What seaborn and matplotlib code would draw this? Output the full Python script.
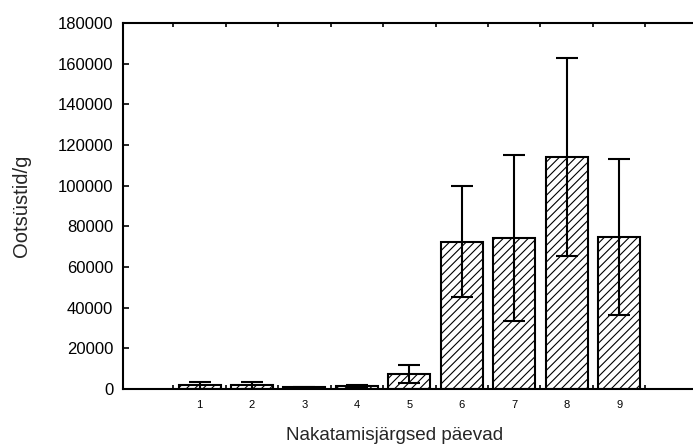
import matplotlib
matplotlib.use("Agg")
import matplotlib.pyplot as plt
import seaborn as sns
import pandas as pd
import numpy as np
from matplotlib.ticker import FixedLocator

days = ["1", "2", "3", "4", "5", "6", "7", "8", "9"]
means = [1800, 1800, 800, 1300, 7200, 72400, 74400, 114100, 74800]
errors = [1600, 1600, 400, 700, 4400, 27200, 40900, 48900, 38500]
y_ticks = [0, 20000, 40000, 60000, 80000, 100000, 120000, 140000, 160000, 180000]

sns.set_theme(style="white")
plt.rcParams["font.family"] = ["Liberation Sans", "DejaVu Sans"]
plt.rcParams["hatch.linewidth"] = 0.8
plt.rcParams["hatch.color"] = "black"

df = pd.DataFrame({"day": days, "value": means})

fig = plt.figure(figsize=(6.93, 4.46), dpi=100)
ax = fig.add_axes([123 / 693, 57 / 446, 570 / 693, 366 / 446])

sns.barplot(data=df, x="day", y="value", ax=ax, color="white",
            edgecolor="black", linewidth=1.5, width=0.8, errorbar=None,
            hatch="////", saturation=1)
for p in ax.patches:
    p.set_hatch("////")
    p.set_facecolor("white")
    p.set_edgecolor("black")

xs = [p.get_x() + p.get_width() / 2 for p in ax.patches]
ax.errorbar(xs, means, yerr=errors, fmt="none", ecolor="black",
            elinewidth=1.5, capsize=8, capthick=1.5, zorder=5)

ax.set_xlim(-1.46, 9.41)
ax.set_ylim(0, 180000)
ax.set_yticks(y_ticks)
ax.set_yticklabels([str(v) for v in y_ticks], fontsize=12)
ax.set_xticks(range(len(days)))
ax.set_xticklabels(days, fontsize=8)
ax.xaxis.set_minor_locator(FixedLocator([i - 0.5 for i in range(len(days) + 1)]))

for s in ["left", "bottom", "top"]:
    ax.spines[s].set_visible(True)
    ax.spines[s].set_color("black")
    ax.spines[s].set_linewidth(1.5)
ax.spines["right"].set_visible(False)

ax.tick_params(axis="y", which="major", direction="in", length=4, width=1.2,
               left=True, right=False, labelsize=12, pad=7, colors="black")
ax.tick_params(axis="x", which="major", length=0, pad=8, labelsize=8,
               labelcolor="black")
ax.tick_params(axis="x", which="minor", direction="in", length=3, width=1.2,
               bottom=True, top=True, colors="black")

ax.set_xlabel("Nakatamisjärgsed päevad", fontsize=13.6)
ax.xaxis.set_label_coords(0.476, -0.105)
ax.set_ylabel("Ootsüstid/g", fontsize=14.5)
ax.yaxis.set_label_coords(-0.161, 0.5)

fig.savefig("out.png", dpi=100)
